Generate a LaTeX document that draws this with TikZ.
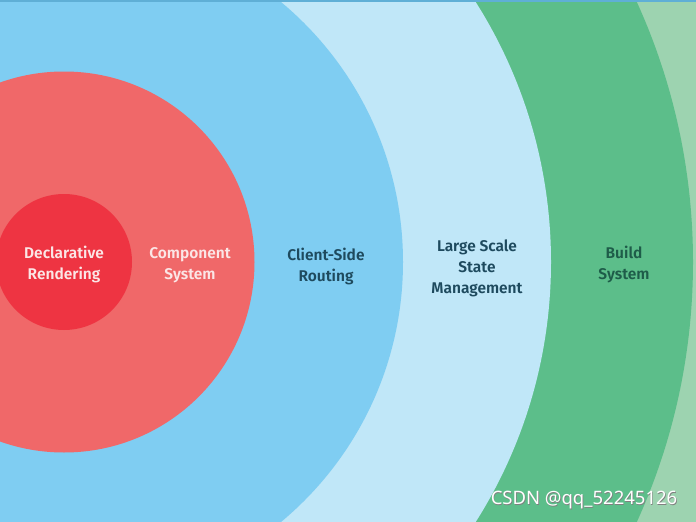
\documentclass[tikz,border=0pt]{standalone}
\usepackage{fontspec}
\setmainfont{Fira Sans}
\newfontfamily\labelfont{Fira Sans}[UprightFont=* SemiBold]
\newfontfamily\markfont{Noto Sans}
\definecolor{innerred}{HTML}{EE3442}
\definecolor{outerred}{HTML}{F06869}
\definecolor{midblue}{HTML}{7FCDF2}
\definecolor{paleblue}{HTML}{C0E7F8}
\definecolor{midgreen}{HTML}{5CBE8A}
\definecolor{palegreen}{HTML}{9DD3B0}
\definecolor{edgeblue}{HTML}{5FAFD6}
\definecolor{lighttext}{HTML}{FBE6E6}
\definecolor{darktext}{HTML}{1E4A5E}
\definecolor{greentext}{HTML}{1E5C49}
\tikzset{
  lbl/.style={font=\labelfont\fontsize{15.5}{21}\selectfont, align=center, inner sep=0pt},
  onred/.style={lbl, text=lighttext},
  onblue/.style={lbl, text=darktext},
  ongreen/.style={lbl, text=greentext},
}
\begin{document}
\begin{tikzpicture}[x=1pt,y=-1pt]
\useasboundingbox (0,0) rectangle (696,522);
\begin{scope}
\clip (0,0) rectangle (696,522);
\fill[palegreen] (0,0) rectangle (696,522);
\fill[midgreen] (65,262) circle[radius=628];
\fill[paleblue] (65,262) circle[radius=486];
\fill[midblue] (65,262) circle[radius=338];
\fill[outerred] (64,262) circle[radius=190.5];
\fill[innerred] (64,262) circle[radius=68];
\draw[edgeblue, line width=1.5] (0,0.75) -- (696,0.75);
\end{scope}
\node[onred] (decl) at (64,264) {Declarative\\Rendering};
\node[onred] (comp) at (190,265) {Component\\System};
\node[onblue] (route) at (326,266) {Client-Side\\Routing};
\node[onblue] (state) at (477,268) {Large Scale\\State\\Management};
\node[ongreen] (build) at (624,264) {Build\\System};
\node[font=\markfont\fontsize{18.5}{20}\selectfont, text=black!50, inner sep=0pt] at (584.7,500.7) {CSDN @qq\_52245126};
\node[font=\markfont\fontsize{18.5}{20}\selectfont, text=white, inner sep=0pt] (mark) at (584,500) {CSDN @qq\_52245126};
\end{tikzpicture}
\end{document}
